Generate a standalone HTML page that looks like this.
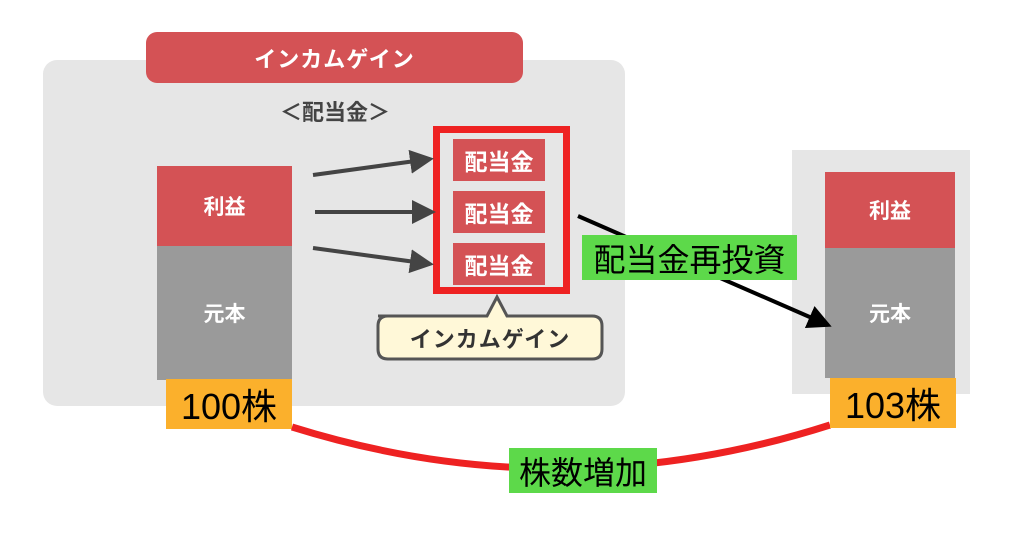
<!DOCTYPE html>
<html><head><meta charset="utf-8"><style>
body{margin:0;width:1024px;height:540px;background:#fff;position:relative;overflow:hidden;font-family:"Liberation Sans","Noto Sans CJK JP",sans-serif}
.a{position:absolute;box-sizing:border-box;display:flex;align-items:center;justify-content:center}
</style></head><body>
<div class="a" style="left:43px;top:60px;width:582px;height:346px;background:#e6e6e6;border-radius:14px"></div>
<div class="a" style="left:146px;top:32px;width:377px;height:51px;background:#d45255;border-radius:11px;color:#fff;font-weight:bold;font-size:22px;letter-spacing:1px">インカムゲイン</div>
<div class="a" style="left:250px;top:94px;width:170px;height:34px;color:#444;font-size:22px;font-weight:bold">＜配当金＞</div>
<div class="a" style="left:157px;top:166px;width:135px;height:80px;background:#d45255;color:#fff;font-weight:bold;font-size:21px">利益</div>
<div class="a" style="left:157px;top:246px;width:135px;height:134px;background:#9a9a9a;color:#fff;font-weight:bold;font-size:21px">元本</div>
<div class="a" style="left:166px;top:379px;width:126px;height:50px;background:#fbb02c;color:#000;font-size:36px">100株</div>
<div class="a" style="left:433px;top:126px;width:137px;height:168px;border:7px solid #ee2222"></div>
<div class="a" style="left:453px;top:139px;width:92px;height:42px;background:#d45255;color:#fff;font-weight:bold;font-size:23px">配当金</div>
<div class="a" style="left:453px;top:191px;width:92px;height:42px;background:#d45255;color:#fff;font-weight:bold;font-size:23px">配当金</div>
<div class="a" style="left:453px;top:243px;width:92px;height:42px;background:#d45255;color:#fff;font-weight:bold;font-size:23px">配当金</div>
<div class="a" style="left:792px;top:150px;width:178px;height:244px;background:#e6e6e6"></div>
<div class="a" style="left:825px;top:172px;width:130px;height:76px;background:#d45255;color:#fff;font-weight:bold;font-size:21px">利益</div>
<div class="a" style="left:825px;top:248px;width:130px;height:130px;background:#9a9a9a;color:#fff;font-weight:bold;font-size:21px">元本</div>
<svg class="a" style="left:0;top:0" width="1024" height="540">
<defs><marker id="m1" markerWidth="6" markerHeight="6" refX="5" refY="3" orient="auto" markerUnits="strokeWidth"><path d="M0,0L6,3L0,6z" fill="#444"/></marker>
<marker id="m2" markerWidth="6" markerHeight="6" refX="5" refY="3" orient="auto" markerUnits="strokeWidth"><path d="M0,0L6,3L0,6z" fill="#000"/></marker></defs>
<g stroke="#444" stroke-width="4" fill="none">
<line x1="313" y1="175" x2="430" y2="159" marker-end="url(#m1)"/>
<line x1="315" y1="212" x2="432" y2="212" marker-end="url(#m1)"/>
<line x1="313" y1="248" x2="430" y2="264" marker-end="url(#m1)"/>
</g>
<line x1="578" y1="216" x2="828" y2="325" stroke="#000" stroke-width="4" marker-end="url(#m2)"/>
<path d="M292,427 Q561,511 830,425" stroke="#ee2222" stroke-width="7" fill="none"/>
<path d="M378,316 H487 L497,297 L507,316 H592 Q602,316 602,326 V349 Q602,359 592,359 H388 Q378,359 378,349 V326 Q378,316 388,316Z" fill="#fff8d8" stroke="#555" stroke-width="3"/>
</svg>
<div class="a" style="left:378px;top:316px;width:224px;height:43px;color:#333;font-size:22px;font-weight:bold;letter-spacing:1px">インカムゲイン</div>
<div class="a" style="left:582px;top:235px;width:215px;height:45px;background:#5dd94a;color:#000;font-size:32px">配当金再投資</div>
<div class="a" style="left:830px;top:378px;width:126px;height:50px;background:#fbb02c;color:#000;font-size:36px">103株</div>
<div class="a" style="left:509px;top:448px;width:148px;height:45px;background:#5dd94a;color:#000;font-size:32px">株数増加</div>
</body></html>
